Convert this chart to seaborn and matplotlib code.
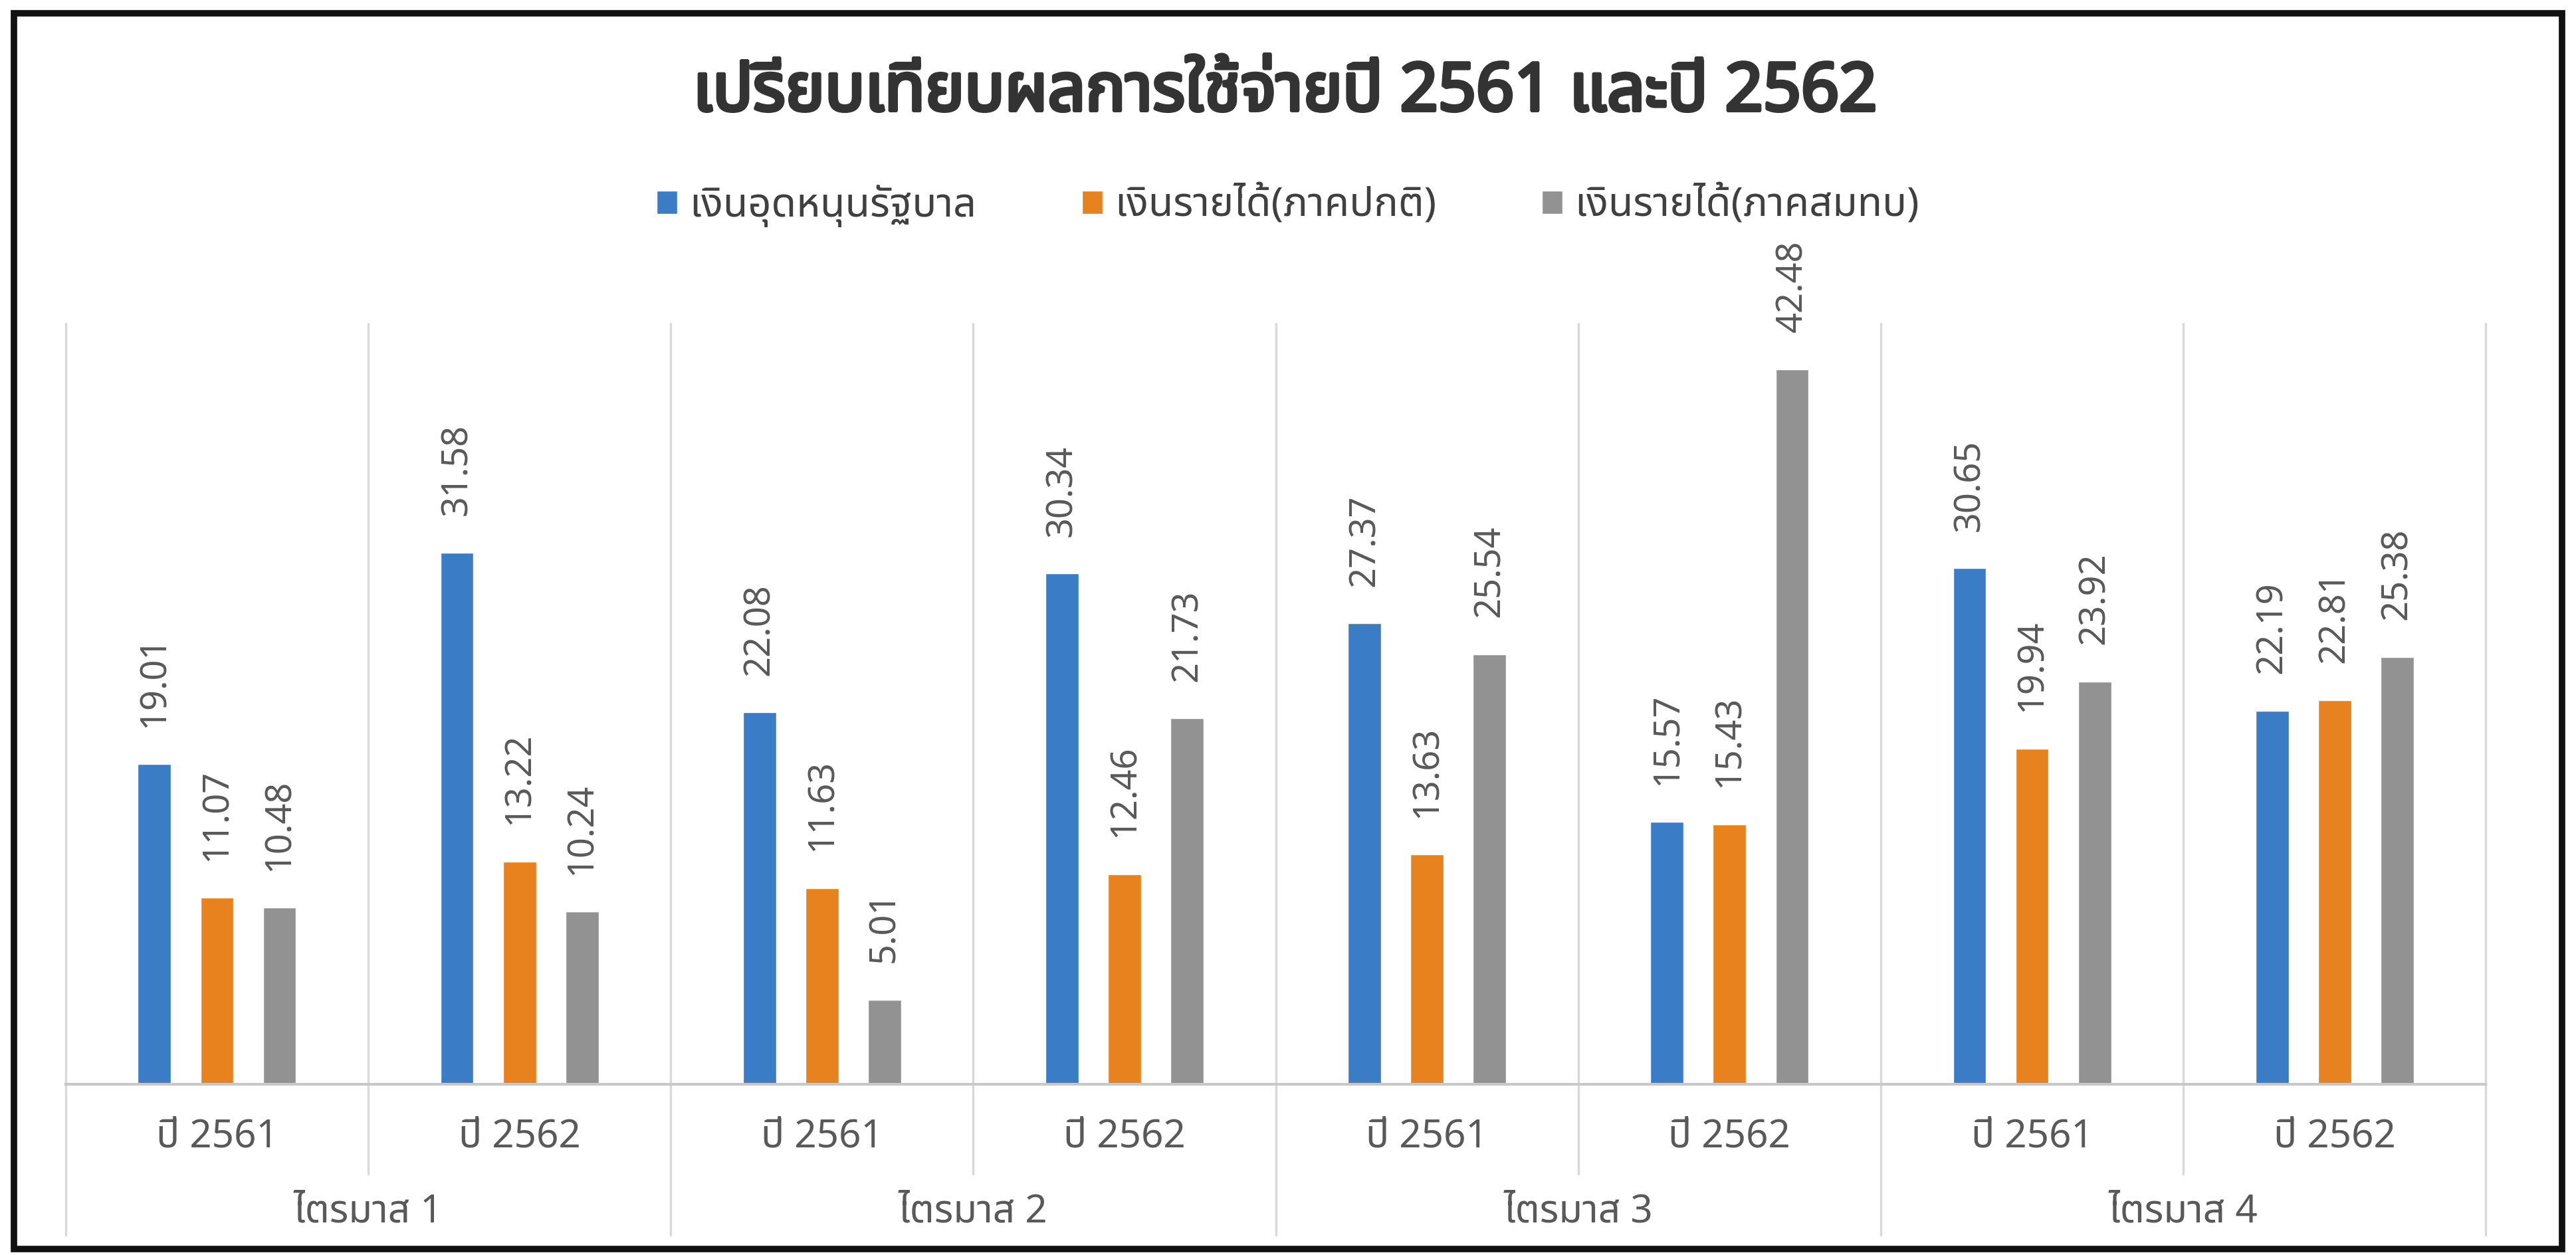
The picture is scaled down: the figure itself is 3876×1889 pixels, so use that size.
import matplotlib
matplotlib.use("Agg")
import matplotlib.pyplot as plt
from matplotlib import font_manager
from matplotlib.lines import Line2D
from matplotlib.patches import Rectangle
import matplotlib.patheffects as pe
import seaborn as sns
import pandas as pd

# ---------------- data ----------------
quarters = ["ไตรมาส 1", "ไตรมาส 2", "ไตรมาส 3", "ไตรมาส 4"]
years = ["ปี 2561", "ปี 2562"]
series_names = ["เงินอุดหนุนรัฐบาล", "เงินรายได้(ภาคปกติ)", "เงินรายได้(ภาคสมทบ)"]
subsidy = [19.01, 31.58, 22.08, 30.34, 27.37, 15.57, 30.65, 22.19]
income_regular = [11.07, 13.22, 11.63, 12.46, 13.63, 15.43, 19.94, 22.81]
income_special = [10.48, 10.24, 5.01, 21.73, 25.54, 42.48, 23.92, 25.38]
title_text = "เปรียบเทียบผลการใช้จ่ายปี 2561 และปี 2562"
colors = ["#3A7DC6", "#E8821E", "#929292"]

# ---------------- font with Thai coverage ----------------
def find_thai_font():
    try:
        from fontTools.ttLib import TTFont
    except Exception:
        return None
    preferred = ["Noto Sans Thai", "Noto Sans Thai UI", "Loma", "Garuda", "Tlwg Typo",
                 "Sarabun", "Tahoma", "Leelawadee UI", "Noto Sans", "Noto Serif Thai"]
    found = {}
    for f in font_manager.fontManager.ttflist:
        try:
            tt = TTFont(f.fname, fontNumber=0, lazy=True)
            cmap = tt.getBestCmap()
            if cmap and 0x0E01 in cmap and 0x0E35 in cmap:
                found.setdefault(f.name, f.fname)
        except Exception:
            continue
    for p in preferred:
        if p in found:
            return p
    if found:
        return sorted(found)[0]
    return None

sns.set_theme(style="white")
thai = find_thai_font()
fam = [thai, "DejaVu Sans"] if thai else ["DejaVu Sans"]
plt.rcParams["font.family"] = fam

# ---------------- long table ----------------
cats = [f"{q}|{y}" for q in quarters for y in years]
rows = []
for name, vals in zip(series_names, [subsidy, income_regular, income_special]):
    for c, v in zip(cats, vals):
        rows.append({"cat": c, "series": name, "value": v})
df = pd.DataFrame(rows)

fig = plt.figure(figsize=(38.76, 18.89), dpi=100)
fig.patch.set_facecolor("white")
ax = fig.add_axes([0.0255, 0.1363, 0.9395, 0.606])

sns.barplot(data=df, x="cat", y="value", hue="series", order=cats,
            hue_order=series_names, palette=colors, width=0.62, gap=0.47,
            saturation=1, ax=ax, legend=True)

ax.set_ylim(0, 45.2)
ax.set_xlim(-0.5, len(cats) - 0.5)
ax.set_xlabel("")
ax.set_ylabel("")
ax.set_yticks([])
for s in ["top", "left", "right"]:
    ax.spines[s].set_visible(False)
ax.spines["bottom"].set_color("#C8C8C8")
ax.spines["bottom"].set_linewidth(3)

label_color = "#595959"
for cont in ax.containers:
    ax.bar_label(cont, fmt="%.2f", rotation=90, padding=40, fontsize=39,
                 color=label_color)

ax.set_xticks(range(len(cats)))
ax.set_xticklabels([c.split("|")[1] for c in cats], fontsize=42, color=label_color)
ax.tick_params(axis="x", length=0, pad=36)

# separators
tr = ax.get_xaxis_transform()
sep_color = "#D9D9D9"
for i in range(len(cats) + 1):
    x = i - 0.5
    bottom = -0.199 if i % 2 == 0 else -0.118
    ax.add_line(Line2D([x, x], [bottom, 1.0], transform=tr, color=sep_color,
                       lw=2.5, clip_on=False, zorder=0))

# quarter labels
for qi, q in enumerate(quarters):
    ax.text(qi * 2 + 0.5, -0.168, q, transform=tr, ha="center", va="center",
            fontsize=42, color=label_color)

# legend
handles, labels = ax.get_legend_handles_labels()
ax.get_legend().remove()
fig.legend(handles, labels, loc="center", bbox_to_anchor=(0.5, 0.836), ncol=3,
           frameon=False, fontsize=44, handlelength=0.5, handleheight=0.5,
           handletextpad=0.3, columnspacing=2.6, labelcolor="#404040")

title_color = "#333333"
fig.text(0.499, 0.926, title_text, ha="center", va="center", fontsize=72,
         fontweight="bold", color=title_color,
         path_effects=[pe.withStroke(linewidth=4, foreground=title_color)])

# outer frame
fig.add_artist(Rectangle((0.0055, 0.0045), 0.989, 0.985, transform=fig.transFigure,
                         fill=False, edgecolor="#111111", lw=7))

fig.savefig("out.png", dpi=100, facecolor="white")
